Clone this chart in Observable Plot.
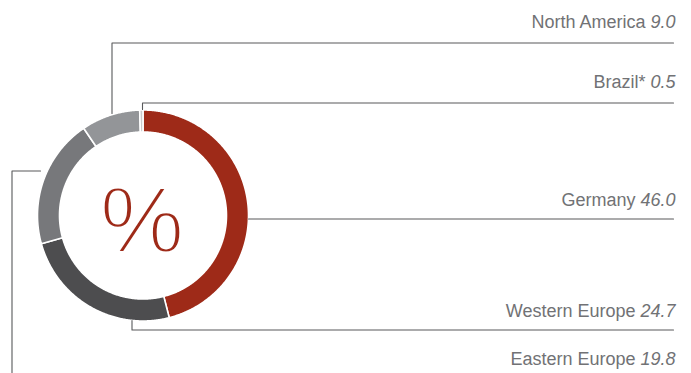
<!DOCTYPE html>
<html>
<head>
<meta charset="utf-8">
<script src="https://cdn.jsdelivr.net/npm/d3@7"></script>
<script src="https://cdn.jsdelivr.net/npm/@observablehq/plot@0.6"></script>
<style>
  html, body { margin: 0; padding: 0; background: #fff; }
  #chart svg { display: block; }
</style>
</head>
<body>
<div id="chart"></div>
<script>
// ---- data ----
const categories = ["Germany", "Western Europe", "Eastern Europe", "North America", "Brazil*"];
const values = [46.0, 24.7, 19.8, 9.0, 0.5];
const valueLabels = ["46.0", "24.7", "19.8", "9.0", "0.5"];
const colors = ["#9e2a18", "#4d4d4f", "#77787b", "#939598", "#c9cacc"];

// ---- layout (pixels) ----
const W = 691, H = 373;
const cx = 142.5, cy = 215, rOuter = 105.5, rInner = 83.5;
const labelRight = 675;
const labelBaselines = [205, 316.5, 364, 27, 87.5];
const leaderPaths = [
  [[248, 218.5], [673, 218.5]],
  [[131.5, 320], [131.5, 329.5], [673, 329.5]],
  [[40, 170.5], [11.5, 170.5], [11.5, 373]],
  [[111.5, 113], [111.5, 42.5], [673, 42.5]],
  [[142, 109], [142, 102.5], [673, 102.5]]
];

// ---- slices ----
const arcs = d3.pie().sort(null).startAngle(0).endAngle(2 * Math.PI)(values);
const slices = arcs.map((a, i) => {
  const pts = [];
  const n = Math.max(2, Math.ceil((a.endAngle - a.startAngle) / (Math.PI / 360)));
  for (let k = 0; k <= n; k++) {
    const t = a.startAngle + (a.endAngle - a.startAngle) * k / n;
    pts.push({x: cx + rOuter * Math.sin(t), y: cy - rOuter * Math.cos(t)});
  }
  for (let k = n; k >= 0; k--) {
    const t = a.startAngle + (a.endAngle - a.startAngle) * k / n;
    pts.push({x: cx + rInner * Math.sin(t), y: cy - rInner * Math.cos(t)});
  }
  return {cat: categories[i], color: colors[i], pts};
});

// ---- text measuring ----
const font = "'Liberation Sans', Arial, sans-serif";
const ctx = document.createElement("canvas").getContext("2d");
ctx.font = `18px ${font}`;
const spaceW = ctx.measureText(" ").width;
ctx.font = `italic 18px ${font}`;
const labels = categories.map((c, i) => {
  const vw = ctx.measureText(valueLabels[i]).width;
  return {name: c, value: valueLabels[i], y: labelBaselines[i], nameX: labelRight - vw - spaceW};
});

const leaderData = leaderPaths.flatMap((p, i) => p.map(([x, y]) => ({cat: categories[i], x, y})));

const chart = Plot.plot({
  width: W,
  height: H,
  margin: 0,
  x: {domain: [0, W], range: [0, W], axis: null},
  y: {domain: [0, H], range: [0, H], axis: null},
  style: {background: "#fff", overflow: "visible"},
  marks: [
    ...slices.map(s => Plot.line(s.pts, {
      x: "x", y: "y", fill: s.color, stroke: "#fff", strokeWidth: 1.6,
      curve: "linear-closed"
    })),
    Plot.line(leaderData, {x: "x", y: "y", z: "cat", stroke: "#58595b", strokeWidth: 1.1}),
    Plot.text(labels, {
      x: "nameX", y: "y", text: "name", textAnchor: "end", lineAnchor: "bottom",
      fontSize: 18, fontFamily: font, fill: "#717275"
    }),
    Plot.text(labels, {
      x: () => labelRight, y: "y", text: "value", textAnchor: "end", lineAnchor: "bottom",
      fontSize: 18, fontFamily: font, fontStyle: "italic", fill: "#717275"
    }),
    Plot.text(["%"], {
      x: () => cx - 1, y: () => 251, text: d => d, textAnchor: "middle", lineAnchor: "bottom",
      fontSize: 95, fontFamily: font, fill: "#9e2a18",
      stroke: "#fff", strokeWidth: 3, paintOrder: "normal"
    })
  ]
});
document.getElementById("chart").appendChild(chart);
</script>
</body>
</html>
